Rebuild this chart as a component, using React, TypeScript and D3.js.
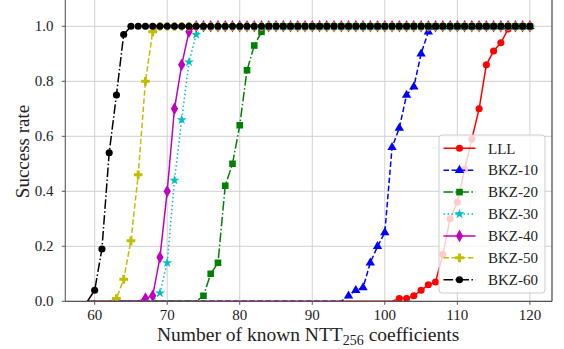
import React from "react";
import * as d3 from "d3";

const W = 564;
const H = 349;

// known coefficients n = 59 .. 120
const nValues = [
  59, 60, 61, 62, 63, 64, 65, 66, 67, 68, 69, 70, 71, 72, 73, 74, 75, 76, 77, 78, 79,
  80, 81, 82, 83, 84, 85, 86, 87, 88, 89, 90, 91, 92, 93, 94, 95, 96, 97, 98, 99,
  100, 101, 102, 103, 104, 105, 106, 107, 108, 109, 110, 111, 112, 113, 114, 115, 116, 117, 118, 119, 120,
];

const lll = [
  0, 0, 0, 0, 0, 0, 0, 0, 0, 0, 0, 0, 0, 0, 0, 0, 0, 0, 0, 0, 0,
  0, 0, 0, 0, 0, 0, 0, 0, 0, 0, 0, 0, 0, 0, 0, 0, 0, 0, 0, 0,
  0, 0, 0.01, 0.01, 0.02, 0.04, 0.06, 0.07, 0.17, 0.3, 0.36, 0.48, 0.59, 0.7, 0.86, 0.91, 0.94, 0.99, 1, 1, 1,
];
const bkz10 = [
  0, 0, 0, 0, 0, 0, 0, 0, 0, 0, 0, 0, 0, 0, 0, 0, 0, 0, 0, 0, 0,
  0, 0, 0, 0, 0, 0, 0, 0, 0, 0, 0, 0, 0, 0, 0, 0.02, 0.04, 0.05, 0.14, 0.2,
  0.25, 0.56, 0.63, 0.75, 0.78, 0.9, 0.98, 1, 1, 1, 1, 1, 1, 1, 1, 1, 1, 1, 1, 1, 1,
];
const bkz20 = [
  0, 0, 0, 0, 0, 0, 0, 0, 0, 0, 0, 0, 0, 0, 0, 0, 0.02, 0.1, 0.14, 0.42, 0.5,
  0.64, 0.84, 0.93, 0.98, 1, 1, 1, 1, 1, 1, 1, 1, 1, 1, 1, 1, 1, 1, 1, 1,
  1, 1, 1, 1, 1, 1, 1, 1, 1, 1, 1, 1, 1, 1, 1, 1, 1, 1, 1, 1, 1,
];
const bkz30 = [
  0, 0, 0, 0, 0, 0, 0, 0, 0, 0, 0.03, 0.14, 0.44, 0.66, 0.87, 0.97, 1, 1, 1, 1, 1,
  1, 1, 1, 1, 1, 1, 1, 1, 1, 1, 1, 1, 1, 1, 1, 1, 1, 1, 1, 1,
  1, 1, 1, 1, 1, 1, 1, 1, 1, 1, 1, 1, 1, 1, 1, 1, 1, 1, 1, 1, 1,
];
const bkz40 = [
  0, 0, 0, 0, 0, 0, 0, 0, 0.01, 0.02, 0.16, 0.4, 0.7, 0.86, 0.98, 1, 1, 1, 1, 1, 1,
  1, 1, 1, 1, 1, 1, 1, 1, 1, 1, 1, 1, 1, 1, 1, 1, 1, 1, 1, 1,
  1, 1, 1, 1, 1, 1, 1, 1, 1, 1, 1, 1, 1, 1, 1, 1, 1, 1, 1, 1, 1,
];
const bkz50 = [
  0, 0, 0, 0, 0.01, 0.08, 0.22, 0.46, 0.8, 0.98, 1, 1, 1, 1, 1, 1, 1, 1, 1, 1, 1,
  1, 1, 1, 1, 1, 1, 1, 1, 1, 1, 1, 1, 1, 1, 1, 1, 1, 1, 1, 1,
  1, 1, 1, 1, 1, 1, 1, 1, 1, 1, 1, 1, 1, 1, 1, 1, 1, 1, 1, 1, 1,
];
const bkz60 = [
  0, 0.04, 0.19, 0.54, 0.75, 0.97, 1, 1, 1, 1, 1, 1, 1, 1, 1, 1, 1, 1, 1, 1, 1,
  1, 1, 1, 1, 1, 1, 1, 1, 1, 1, 1, 1, 1, 1, 1, 1, 1, 1, 1, 1,
  1, 1, 1, 1, 1, 1, 1, 1, 1, 1, 1, 1, 1, 1, 1, 1, 1, 1, 1, 1, 1,
];

const seriesNames = ["LLL", "BKZ-10", "BKZ-20", "BKZ-30", "BKZ-40", "BKZ-50", "BKZ-60"];
const seriesValues = [lll, bkz10, bkz20, bkz30, bkz40, bkz50, bkz60];
const seriesColors = ["#ff0000", "#0000ff", "#008000", "#00bfbf", "#bf00bf", "#bfbf00", "#000000"];
const seriesDash = ["", "5.5,2.6", "9.6,2.4,1.5,2.4", "1.5,2.5", "", "5.5,2.6", "9.6,2.4,1.5,2.4"];
const seriesSymbols = [
  d3.symbolCircle,
  d3.symbolTriangle,
  d3.symbolSquare,
  d3.symbolStar,
  d3.symbolDiamond,
  d3.symbolCross,
  d3.symbolCircle,
];
const symbolSizes = [40, 38, 44, 32, 46, 42, 40];

const xTicks = [60, 70, 80, 90, 100, 110, 120];
const yTicks = [0, 0.2, 0.4, 0.6, 0.8, 1.0];

const FONT = "Liberation Serif, DejaVu Serif, serif";
const tStyle = { fontFamily: FONT };

export default function App() {
  const left = 65.3;
  const right = 552;
  const bottom = 301.3;
  const x = d3.scaleLinear().domain([55.95, 123.05]).range([left, right]);
  const y = d3.scaleLinear().domain([0, 1.1]).range([bottom, bottom - 1.1 * 275]);
  const top = y(1.1);

  const line = d3
    .line<[number, number]>()
    .x((d) => x(d[0]))
    .y((d) => y(d[1]));

  const legendX = 439;
  const legendY = 135;
  const legendW = 106;
  const legendH = 158;
  const rowH = 21.9;

  return (
    <svg
      width={W}
      height={H}
      style={{ position: "absolute", left: 0, top: 0, background: "#fff" }}
    >
      <defs>
        <clipPath id="plotClip">
          <rect x={left} y={top} width={right - left} height={bottom - top} />
        </clipPath>
      </defs>
      {/* grid */}
      {xTicks.map((t) => (
        <line key={"gx" + t} x1={x(t)} x2={x(t)} y1={top} y2={bottom} stroke="#d0d0d0" strokeWidth={1} />
      ))}
      {yTicks.map((t) => (
        <line key={"gy" + t} x1={left} x2={right} y1={y(t)} y2={y(t)} stroke="#d0d0d0" strokeWidth={1} />
      ))}
      {/* series */}
      <g clipPath="url(#plotClip)">
        {seriesValues.map((vals, i) => {
          const pts: [number, number][] = nValues.map((n, k) => [n, vals[k]]);
          const sym = d3.symbol().type(seriesSymbols[i]).size(symbolSizes[i])();
          return (
            <g key={seriesNames[i]}>
              <path
                d={line(pts) || ""}
                fill="none"
                stroke={seriesColors[i]}
                strokeWidth={1.5}
                strokeDasharray={seriesDash[i] || undefined}
              />
              {pts
                .filter((p) => p[1] > 0)
                .map((p) => (
                  <path
                    key={p[0]}
                    d={sym || ""}
                    transform={`translate(${x(p[0])},${y(p[1])})`}
                    fill={seriesColors[i]}
                  />
                ))}
            </g>
          );
        })}
      </g>
      {/* spines */}
      <line x1={left} x2={left} y1={top} y2={bottom} stroke="#666" strokeWidth={1.2} />
      <line x1={right} x2={right} y1={top} y2={bottom} stroke="#444" strokeWidth={1.2} />
      <line x1={left} x2={right} y1={bottom} y2={bottom} stroke="#555" strokeWidth={1.2} />
      {/* ticks */}
      {xTicks.map((t) => (
        <g key={"tx" + t}>
          <line x1={x(t)} x2={x(t)} y1={bottom} y2={bottom + 3.5} stroke="#555" strokeWidth={1} />
          <text x={x(t)} y={319.5} textAnchor="middle" fontSize={15} fill="#222" style={tStyle}>
            {t}
          </text>
        </g>
      ))}
      {yTicks.map((t) => (
        <g key={"ty" + t}>
          <line x1={left - 3.5} x2={left} y1={y(t)} y2={y(t)} stroke="#555" strokeWidth={1} />
          <text x={53.5} y={y(t) + 5} textAnchor="end" fontSize={15} fill="#222" style={tStyle}>
            {t.toFixed(1)}
          </text>
        </g>
      ))}
      {/* axis labels */}
      <text x={157} y={341} textAnchor="start" fontSize={19.5} fill="#222" style={tStyle}>
        Number of known NTT
        <tspan fontSize={14} dy={4}>256</tspan>
        <tspan dy={-4}> coefficients</tspan>
      </text>
      <text
        transform={`translate(28.5,151.5) rotate(-90)`}
        textAnchor="middle"
        fontSize={19}
        fill="#222"
        style={tStyle}
      >
        Success rate
      </text>
      {/* legend */}
      <rect
        x={legendX}
        y={legendY}
        width={legendW}
        height={legendH}
        rx={3}
        fill="#fff"
        fillOpacity={0.8}
        stroke="#cccccc"
        strokeWidth={1}
      />
      {seriesNames.map((name, i) => {
        const cy = 148.3 + i * rowH;
        const sym = d3.symbol().type(seriesSymbols[i]).size(symbolSizes[i])();
        return (
          <g key={"lg" + name}>
            <line
              x1={443.5}
              x2={475.5}
              y1={cy}
              y2={cy}
              stroke={seriesColors[i]}
              strokeWidth={1.5}
              strokeDasharray={seriesDash[i] || undefined}
            />
            <path d={sym || ""} transform={`translate(459.5,${cy})`} fill={seriesColors[i]} />
            <text x={488} y={cy + 5.2} fontSize={15} fill="#222" style={tStyle}>
              {name}
            </text>
          </g>
        );
      })}
    </svg>
  );
}
